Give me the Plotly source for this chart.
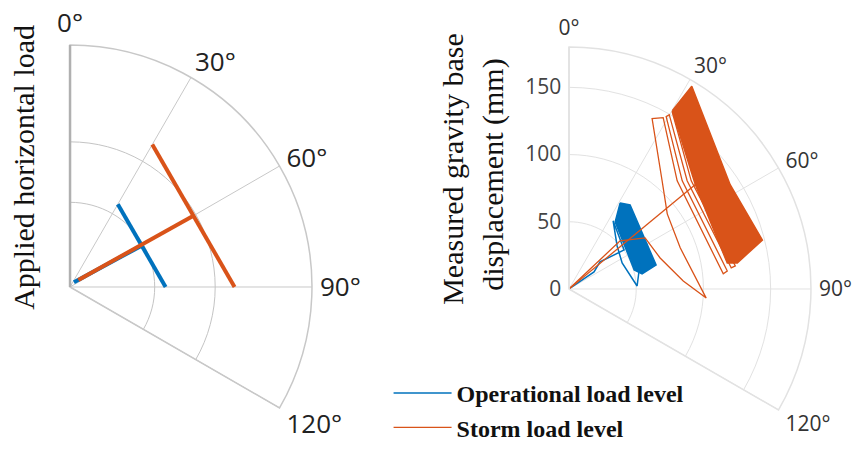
import plotly.graph_objects as go

BLUE = "#0072BD"
RED = "#D95319"

# ---------------- Left panel: applied horizontal load (normalised units) ----------------
angle_ticks = [0, 30, 60, 90, 120]
angle_labels = ["0°", "30°", "60°", "90°", "120°"]
load_grid_r = [0.35, 0.6]

op_load_chord_theta = [30, 90]
op_load_chord_r = [0.395, 0.395]
op_load_dir_theta = [40, 60]
op_load_dir_r = [0.025, 0.342]

storm_load_chord_theta = [30, 90]
storm_load_chord_r = [0.68, 0.68]
storm_load_dir_theta = [50, 60]
storm_load_dir_r = [0.045, 0.589]

# ---------------- Right panel: measured displacement (mm) ----------------
disp_ticks = [0, 50, 100, 150]

op_band_r = [74.5, 77.3, 67.2, 55.5, 50.5, 60.6, 74.5]
op_band_theta = [30.7, 36.0, 74.6, 78.4, 73.7, 34.5, 30.7]

op_path_r = [0, 22.5, 30.6, 50.2, 60.4, 48.0, 44.0, 50.7, 56.3]
op_path_theta = [45, 55.8, 48.9, 54.7, 32.9, 48.2, 63.9, 87.5, 69.9]

storm_band_r = [153.2, 176.3, 142.8, 148.4, 126.7, 119.3, 121.8, 153.2]
storm_band_theta = [30.1, 31.2, 57.1, 75.8, 81.2, 80.7, 50.5, 30.1]

storm_path_r = [0, 52.2, 68.2, 71.6, 85.2, 102.3, 88.2, 92.0, 106.2, 141.0,
                145.4, 113.8, 115.3, 118.5, 116.5, 147.2, 149.6, 119.2, 121.7,
                124.9, 121.4, 152.6]
storm_path_theta = [45, 46.7, 56.1, 71.2, 86.0, 93.8, 69.7, 52.6, 40.7, 26.0,
                    28.8, 45.0, 84.4, 83.5, 46.3, 29.4, 29.9, 47.5, 82.6,
                    82.1, 48.5, 30.2]
storm_return_r = [123.8, 0]
storm_return_theta = [50.4, 45]


def join(a, b):
    return list(a) + [None] + list(b)


fig = go.Figure()

# left panel
fig.add_trace(go.Scatterpolar(
    r=join(op_load_chord_r, op_load_dir_r), theta=join(op_load_chord_theta, op_load_dir_theta),
    mode="lines", line=dict(color=BLUE, width=4), subplot="polar", showlegend=False))
fig.add_trace(go.Scatterpolar(
    r=join(storm_load_chord_r, storm_load_dir_r), theta=join(storm_load_chord_theta, storm_load_dir_theta),
    mode="lines", line=dict(color=RED, width=4), subplot="polar", showlegend=False))

# right panel
fig.add_trace(go.Scatterpolar(
    r=op_band_r, theta=op_band_theta, mode="lines", fill="toself", fillcolor=BLUE,
    line=dict(color=BLUE, width=1.5), subplot="polar2", showlegend=False))
fig.add_trace(go.Scatterpolar(
    r=op_path_r, theta=op_path_theta, mode="lines", line=dict(color=BLUE, width=1.5),
    subplot="polar2", name="Operational load level", legendgroup="op"))
fig.add_trace(go.Scatterpolar(
    r=join(storm_path_r, storm_return_r), theta=join(storm_path_theta, storm_return_theta),
    mode="lines", line=dict(color=RED, width=1.3),
    subplot="polar2", name="Storm load level", legendgroup="storm"))
fig.add_trace(go.Scatterpolar(
    r=storm_band_r, theta=storm_band_theta, mode="lines", fill="toself", fillcolor=RED,
    line=dict(color=RED, width=1.5), subplot="polar2", showlegend=False))


def angular(font_size, color, grid, ticklen):
    return dict(
        rotation=90, direction="clockwise", tickmode="array",
        tickvals=angle_ticks, ticktext=angle_labels,
        ticks="outside", ticklen=ticklen, tickcolor="rgba(0,0,0,0)",
        tickfont=dict(family="Open Sans", size=font_size, color=color),
        showgrid=True, gridcolor=grid, gridwidth=1,
        showline=True, linecolor=grid, linewidth=1.5,
    )


title_font = dict(family="Liberation Serif", size=30, color="#111111")

fig.update_layout(
    template="none",
    width=854, height=450,
    margin=dict(l=0, r=0, t=0, b=0, autoexpand=False),
    paper_bgcolor="white",
    polar=dict(
        domain=dict(x=[0.0820, 0.3653], y=[0.0933, 0.9]),
        sector=[-30, 90], bgcolor="white",
        angularaxis=angular(26, "#222222", "#c8c8c8", 2),
        radialaxis=dict(range=[0, 1], angle=90, tickmode="array", tickvals=load_grid_r,
                        showticklabels=False, ticks="", showgrid=True,
                        gridcolor="#c4c4c4", gridwidth=1.2,
                        showline=True, linecolor="#b0b0b0", linewidth=2.5),
    ),
    polar2=dict(
        domain=dict(x=[0.6663, 0.9496], y=[0.0889, 0.8956]),
        sector=[-30, 90], bgcolor="white",
        angularaxis=angular(21, "#333333", "#e2e2e2", 3),
        radialaxis=dict(range=[0, 180], angle=90, tickmode="array", tickvals=disp_ticks,
                        tickangle=90, side="counterclockwise",
                        tickfont=dict(family="Open Sans", size=21, color="#444444"),
                        ticks="", showgrid=True, gridcolor="#e2e2e2", gridwidth=1,
                        showline=True, linecolor="#e2e2e2", linewidth=1),
    ),
    legend=dict(
        x=0.455, y=0.0, xanchor="left", yanchor="bottom",
        font=dict(family="Liberation Serif", size=24, color="#111111", weight="bold"),
        itemwidth=58, tracegroupgap=0, traceorder="grouped",
        bgcolor="rgba(0,0,0,0)", borderwidth=0,
    ),
    annotations=[
        dict(text="Applied horizontal load", x=0.028, y=0.629, xref="paper", yref="paper",
             xanchor="center", yanchor="middle", textangle=-90, showarrow=False,
             font=title_font),
        dict(text="Measured gravity base", x=0.530, y=0.624, xref="paper", yref="paper",
             xanchor="center", yanchor="middle", textangle=-90, showarrow=False,
             font=title_font),
        dict(text="displacement (mm)", x=0.577, y=0.611, xref="paper", yref="paper",
             xanchor="center", yanchor="middle", textangle=-90, showarrow=False,
             font=title_font),
    ],
)

fig.write_html("out.html", config={"displayModeBar": False},
               post_script="document.body.style.margin='0';")
